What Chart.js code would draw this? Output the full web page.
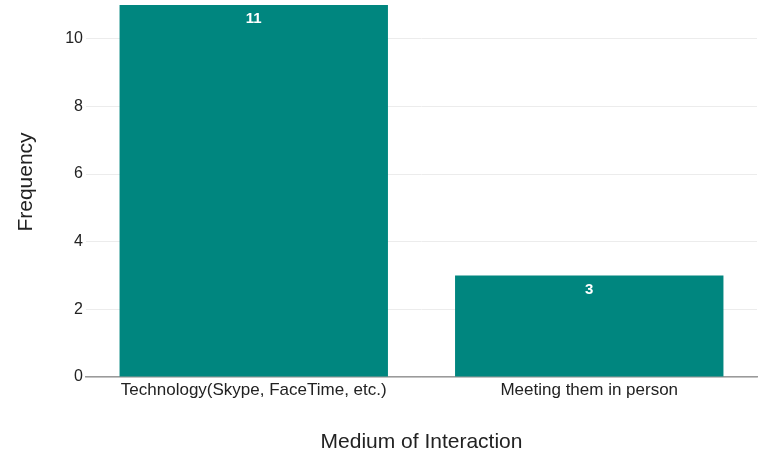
<!DOCTYPE html>
<html>
<head>
<meta charset="utf-8">
<style>
  html, body { margin: 0; padding: 0; background: #ffffff; }
  #wrap { position: relative; width: 761px; height: 455px; }
</style>
<script src="https://cdn.jsdelivr.net/npm/chart.js@4"></script>
</head>
<body>
<div id="wrap"><canvas id="c" width="761" height="455"></canvas></div>
<script>
// Survey answers: how respondents interact
const categories = ["Technology(Skype, FaceTime, etc.)", "Meeting them in person"];
const frequency = [11, 3];
const yTicks = [0, 2, 4, 6, 8, 10];
const yTitle = "Frequency";

const FONT = "'Liberation Sans', Arial, sans-serif";
const TEAL = "#00867f";

// Writes each bar's value in white just inside its top edge
const barValueLabels = {
  id: "barValueLabels",
  afterDatasetsDraw(chart) {
    const ctx = chart.ctx;
    const meta = chart.getDatasetMeta(0);
    ctx.save();
    ctx.fillStyle = "#ffffff";
    ctx.font = "bold 15px " + FONT;
    ctx.textAlign = "center";
    ctx.textBaseline = "middle";
    meta.data.forEach((bar, i) => {
      ctx.fillText(String(frequency[i]), bar.x, bar.y + 14);
    });
    ctx.restore();
  }
};

// Vertical axis title, set a little above the plot's middle
const yAxisTitle = {
  id: "yAxisTitle",
  afterDraw(chart) {
    const ctx = chart.ctx;
    const area = chart.chartArea;
    ctx.save();
    ctx.translate(26, (area.top + area.bottom) / 2 - 9);
    ctx.rotate(-Math.PI / 2);
    ctx.fillStyle = "#222222";
    ctx.font = "21px " + FONT;
    ctx.textAlign = "center";
    ctx.textBaseline = "middle";
    ctx.fillText(yTitle, 0, 0);
    ctx.restore();
  }
};

new Chart(document.getElementById("c"), {
  type: "bar",
  data: {
    labels: categories,
    datasets: [{
      data: frequency,
      backgroundColor: TEAL,
      borderWidth: 0,
      barPercentage: 0.8,
      categoryPercentage: 1.0
    }]
  },
  options: {
    responsive: false,
    animation: false,
    events: [],
    layout: { padding: { left: 0, right: 4, top: 5, bottom: 0 } },
    plugins: { legend: { display: false }, tooltip: { enabled: false } },
    scales: {
      x: {
        grid: { display: false, drawTicks: false },
        border: { display: true, color: "#9a9a9a", width: 1.5 },
        ticks: { color: "#222222", font: { family: FONT, size: 17 }, padding: 3, maxRotation: 0 },
        title: { display: true, text: "Medium of Interaction", color: "#222222",
                 font: { family: FONT, size: 21 }, padding: { top: 20, bottom: 0 } },
        afterFit(axis) { axis.height = 78; }
      },
      y: {
        min: 0,
        max: 11,
        afterBuildTicks(axis) { axis.ticks = yTicks.map(v => ({ value: v })); },
        grid: { color: "#ececec", lineWidth: 1, drawTicks: false },
        border: { display: false },
        ticks: { color: "#222222", font: { family: FONT, size: 16 }, padding: 3 },
        afterFit(axis) {
          axis.width = 86;
          axis.paddingTop = 0;
          axis.paddingBottom = 0;
        }
      }
    }
  },
  plugins: [barValueLabels, yAxisTitle]
});
</script>
</body>
</html>
